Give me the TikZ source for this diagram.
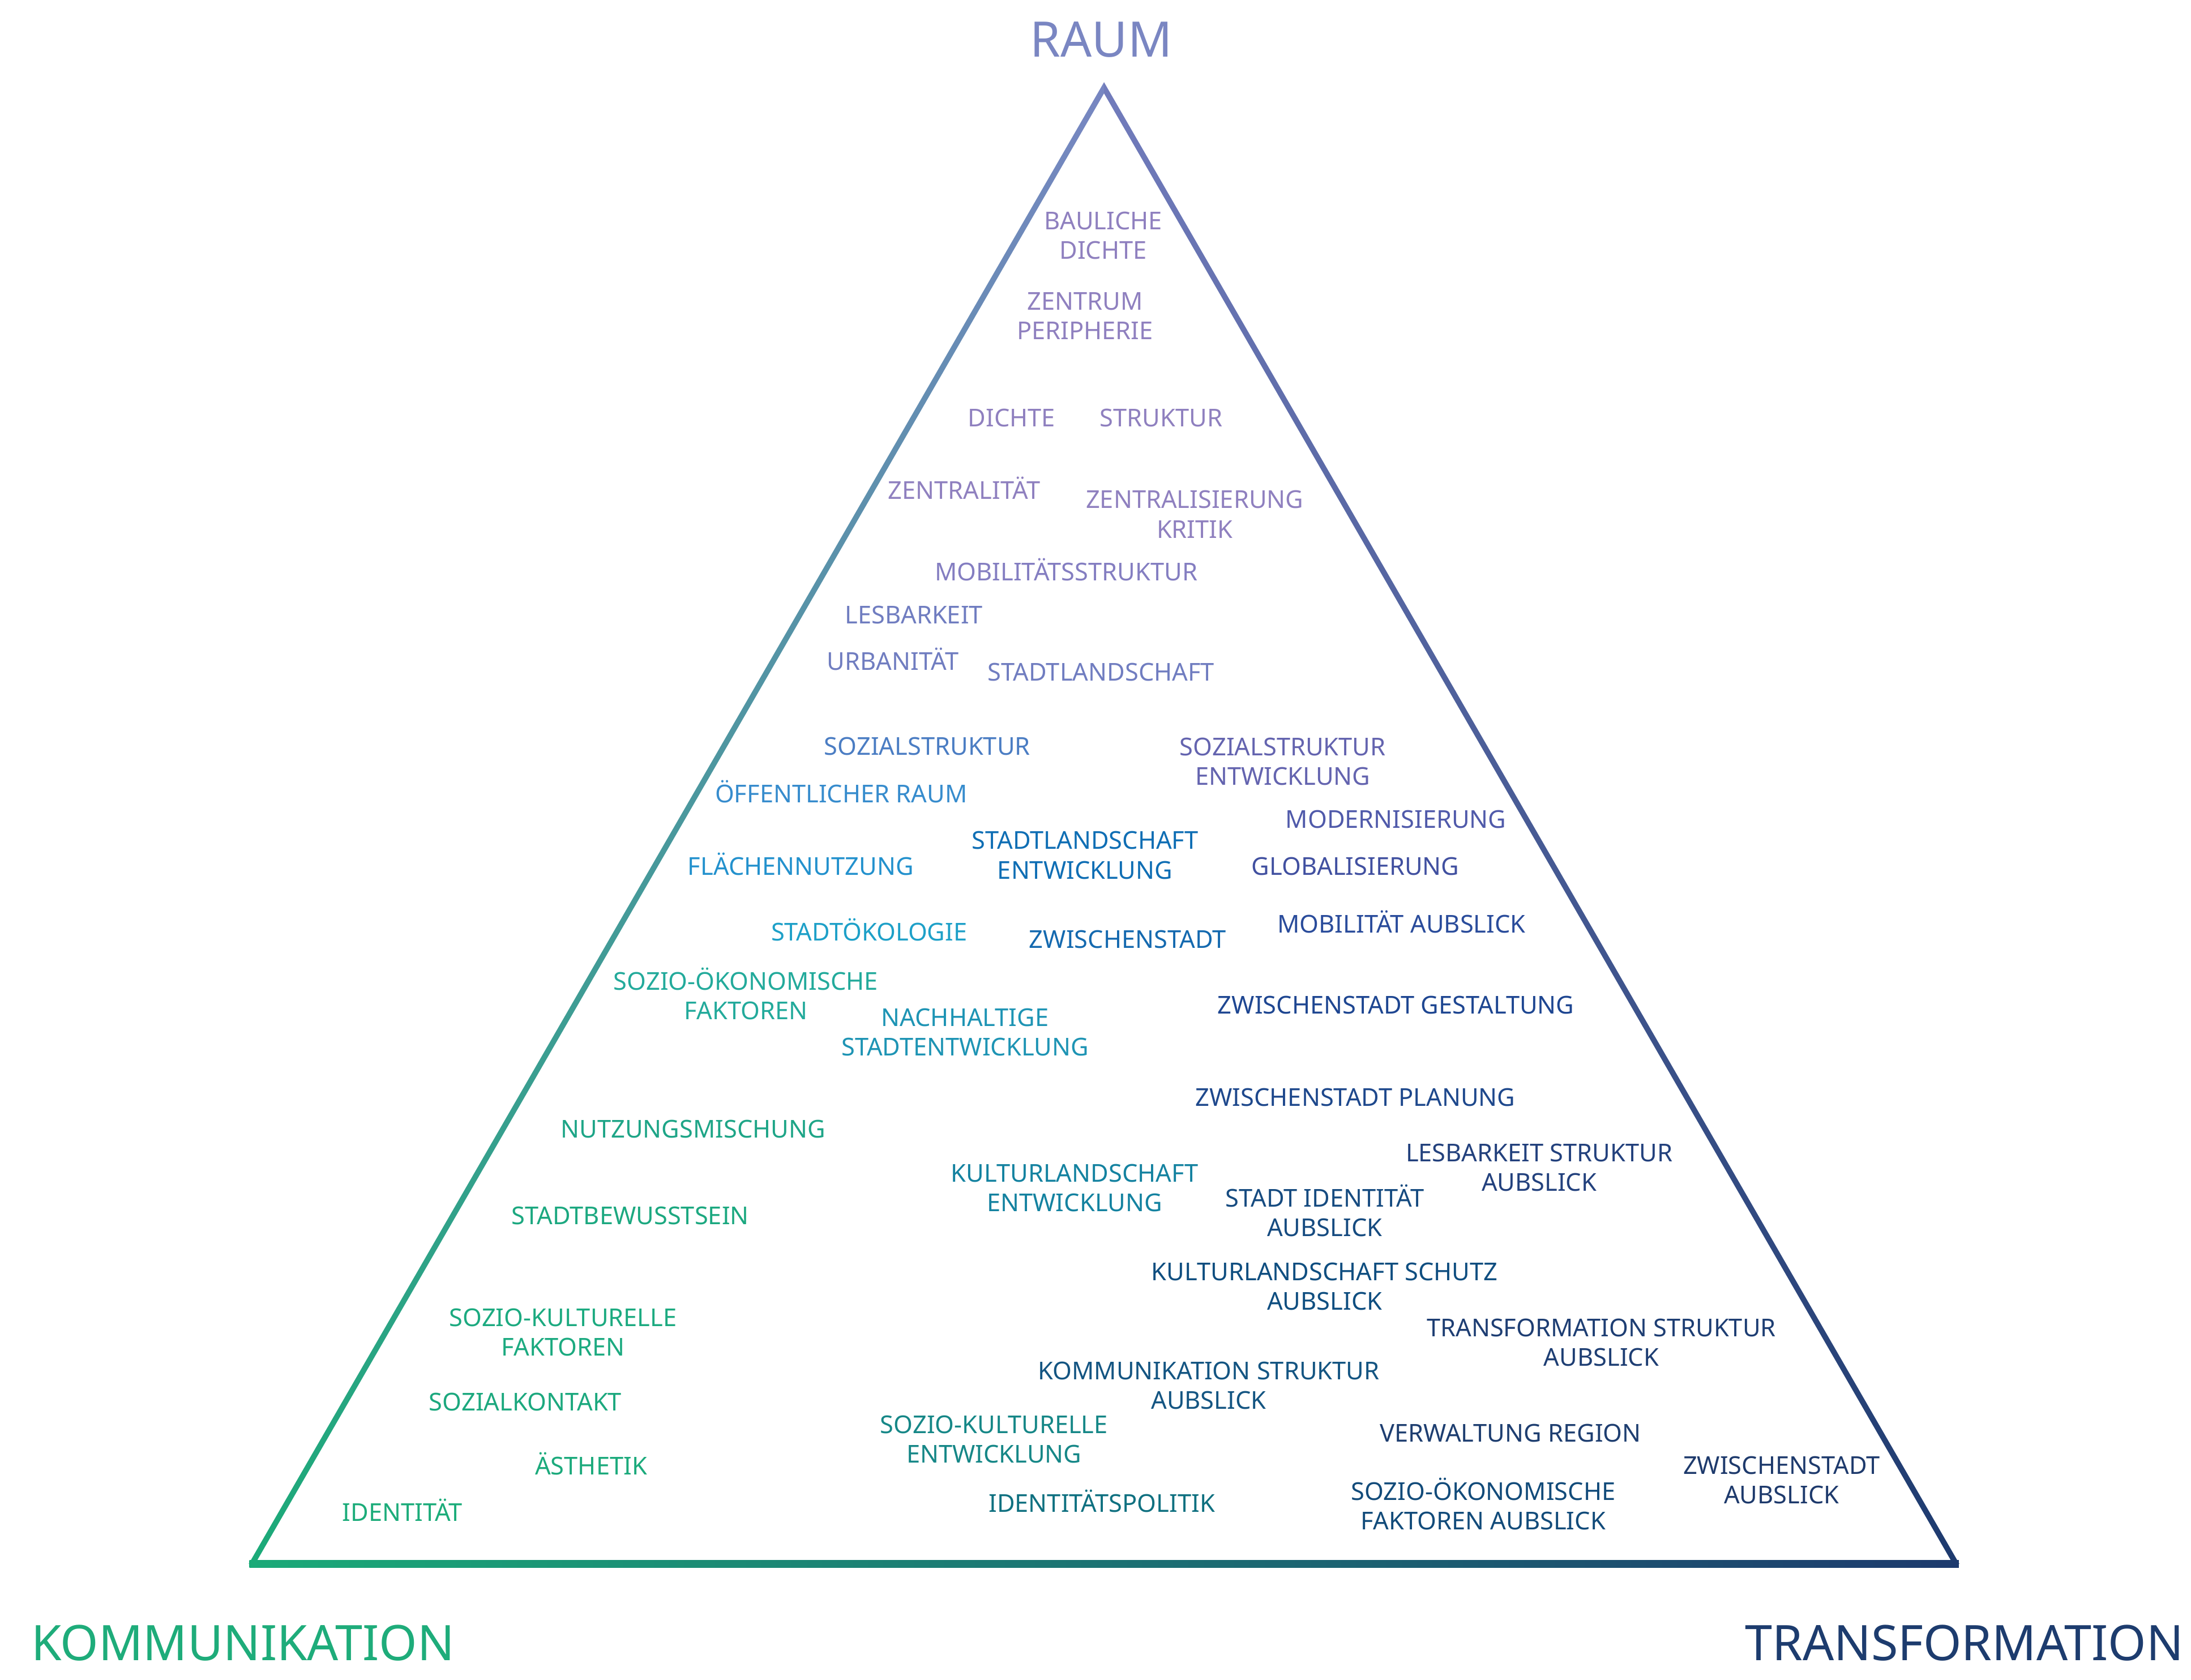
\documentclass[tikz,border=0pt]{standalone}
\usepackage{fontspec}
\setmainfont{Noto Sans}
% edge colours
\definecolor{apexC}{RGB}{120,134,194}
\definecolor{apexR}{RGB}{114,124,188}
\definecolor{greenC}{RGB}{27,170,120}
\definecolor{navyC}{RGB}{29,58,110}
% titles
\definecolor{raumC}{RGB}{122,134,194}
\definecolor{kommC}{RGB}{30,172,122}
\definecolor{transC}{RGB}{29,60,110}
% labels
\definecolor{cTopA}{RGB}{143,128,191}
\definecolor{cTopB}{RGB}{132,126,193}
\definecolor{cLav}{RGB}{112,125,192}
\definecolor{cSoz}{RGB}{75,125,195}
\definecolor{cSozE}{RGB}{100,100,175}
\definecolor{cMod}{RGB}{80,90,170}
\definecolor{cGlob}{RGB}{65,80,160}
\definecolor{cMobA}{RGB}{42,76,155}
\definecolor{cOeff}{RGB}{55,140,205}
\definecolor{cFlae}{RGB}{35,145,205}
\definecolor{cStlE}{RGB}{15,110,180}
\definecolor{cOeko}{RGB}{30,160,200}
\definecolor{cZw}{RGB}{20,105,175}
\definecolor{cSoeF}{RGB}{35,170,155}
\definecolor{cNach}{RGB}{30,148,180}
\definecolor{cZwG}{RGB}{30,70,145}
\definecolor{cZwP}{RGB}{30,72,140}
\definecolor{cNutz}{RGB}{30,165,135}
\definecolor{cBew}{RGB}{28,168,128}
\definecolor{cKulE}{RGB}{20,130,160}
\definecolor{cLesA}{RGB}{35,65,125}
\definecolor{cIdA}{RGB}{22,75,128}
\definecolor{cKulS}{RGB}{15,78,128}
\definecolor{cSkF}{RGB}{28,170,128}
\definecolor{cKont}{RGB}{28,168,126}
\definecolor{cAest}{RGB}{28,170,124}
\definecolor{cIdent}{RGB}{28,172,122}
\definecolor{cTrS}{RGB}{30,62,115}
\definecolor{cKoS}{RGB}{20,85,130}
\definecolor{cSkE}{RGB}{22,135,135}
\definecolor{cIdP}{RGB}{15,112,128}
\definecolor{cVerw}{RGB}{30,62,112}
\definecolor{cSoeA}{RGB}{18,75,122}
\definecolor{cZwA}{RGB}{30,58,108}
\begin{document}
\begin{tikzpicture}[x=0.24681mm,y=-0.24681mm,
  lbl/.style={font=\fontsize{12.35pt}{14.8pt}\selectfont, align=center, inner sep=0pt},
  one/.style={lbl, anchor=base},
  two/.style={lbl, anchor=center},
  ttl/.style={font=\fontsize{24.6pt}{29pt}\selectfont, inner sep=0pt}]
\useasboundingbox (0,0) rectangle (1568,1202);

% triangle frame
\shade[top color=apexC, bottom color=greenC]
  (790.1,58.8) -- (178.0,1119) -- (182.6,1119) -- (790.1,66.8) -- cycle;
\shade[top color=apexR, bottom color=navyC]
  (790.1,58.8) -- (1402.2,1119) -- (1397.6,1119) -- (790.1,66.8) -- cycle;
\shade[left color=greenC, right color=navyC]
  (178.5,1116.6) rectangle (1401.8,1121.8);

% corner titles
\node[ttl, anchor=base, text=raumC] (raum) at (788.1,40.6) {RAUM};
\node[ttl, anchor=base west, text=kommC] (komm) at (22,1188) {KOMMUNIKATION};
\node[ttl, anchor=base east, text=transC] (trans) at (1563,1188) {TRANSFORMATION};

% labels
\node[two, text=cTopA] (baul) at (789.5,168.7) {BAULICHE\\DICHTE};
\node[two, text=cTopA] (zentr) at (776.5,225.9) {ZENTRUM\\PERIPHERIE};
\node[one, text=cTopA] (dichte) at (724,305.3) {DICHTE};
\node[one, text=cTopA] (struk) at (831,305.3) {STRUKTUR};
\node[one, text=cTopA] (zentral) at (690,357.3) {ZENTRALITÄT};
\node[two, text=cTopA] (zkrit) at (855,368) {ZENTRALISIERUNG\\KRITIK};
\node[one, text=cTopB] (mobs) at (763,415.3) {MOBILITÄTSSTRUKTUR};
\node[one, text=cLav] (lesb) at (654,446.4) {LESBARKEIT};
\node[one, text=cLav] (urban) at (639,479.4) {URBANITÄT};
\node[one, text=cLav] (stl) at (788,487.4) {STADTLANDSCHAFT};
\node[one, text=cSoz] (soz) at (663.6,540.2) {SOZIALSTRUKTUR};
\node[two, text=cSozE] (sozE) at (918,544.8) {SOZIALSTRUKTUR\\ENTWICKLUNG};
\node[one, text=cOeff] (oeff) at (602,574.3) {ÖFFENTLICHER RAUM};
\node[one, text=cMod] (mod) at (999,592.7) {MODERNISIERUNG};
\node[one, text=cFlae] (flae) at (573,626.3) {FLÄCHENNUTZUNG};
\node[two, text=cStlE] (stlE) at (776.5,612) {STADTLANDSCHAFT\\ENTWICKLUNG};
\node[one, text=cGlob] (glob) at (970,626.2) {GLOBALISIERUNG};
\node[one, text=cOeko] (oeko) at (622,673.3) {STADTÖKOLOGIE};
\node[one, text=cZw] (zw) at (807,678.3) {ZWISCHENSTADT};
\node[one, text=cMobA] (mobA) at (1003,667.6) {MOBILITÄT AUBSLICK};
\node[two, text=cSoeF] (soeF) at (533.8,711) {SOZIO-ÖKONOMISCHE\\FAKTOREN};
\node[two, text=cNach] (nach) at (690.6,738.6) {NACHHALTIGE\\STADTENTWICKLUNG};
\node[one, text=cZwG] (zwG) at (999,725.3) {ZWISCHENSTADT GESTALTUNG};
\node[one, text=cZwP] (zwP) at (970,791.3) {ZWISCHENSTADT PLANUNG};
\node[one, text=cNutz] (nutz) at (496,814.3) {NUTZUNGSMISCHUNG};
\node[two, text=cLesA] (lesA) at (1101.5,835.3) {LESBARKEIT STRUKTUR\\AUBSLICK};
\node[two, text=cKulE] (kulE) at (769,850) {KULTURLANDSCHAFT\\ENTWICKLUNG};
\node[two, text=cIdA] (idA) at (948,866.2) {STADT IDENTITÄT\\AUBSLICK};
\node[one, text=cBew] (bew) at (451,876.3) {STADTBEWUSSTSEIN};
\node[two, text=cKulS] (kulS) at (948,920.5) {KULTURLANDSCHAFT SCHUTZ\\AUBSLICK};
\node[two, text=cSkF] (skF) at (403,953.5) {SOZIO-KULTURELLE\\FAKTOREN};
\node[two, text=cTrS] (trS) at (1146,960.5) {TRANSFORMATION STRUKTUR\\AUBSLICK};
\node[two, text=cKoS] (koS) at (865,991.5) {KOMMUNIKATION STRUKTUR\\AUBSLICK};
\node[one, text=cKont] (kont) at (376,1009.3) {SOZIALKONTAKT};
\node[two, text=cSkE] (skE) at (711.4,1030) {SOZIO-KULTURELLE\\ENTWICKLUNG};
\node[one, text=cVerw] (verw) at (1081,1031.9) {VERWALTUNG REGION};
\node[two, text=cZwA] (zwA) at (1275,1058.9) {ZWISCHENSTADT\\AUBSLICK};
\node[one, text=cAest] (aest) at (423,1055.3) {ÄSTHETIK};
\node[one, text=cIdP] (idP) at (788.5,1082.1) {IDENTITÄTSPOLITIK};
\node[two, text=cSoeA] (soeA) at (1061.5,1076.2) {SOZIO-ÖKONOMISCHE\\FAKTOREN AUBSLICK};
\node[one, text=cIdent] (ident) at (288,1088.3) {IDENTITÄT};
\end{tikzpicture}
\end{document}
